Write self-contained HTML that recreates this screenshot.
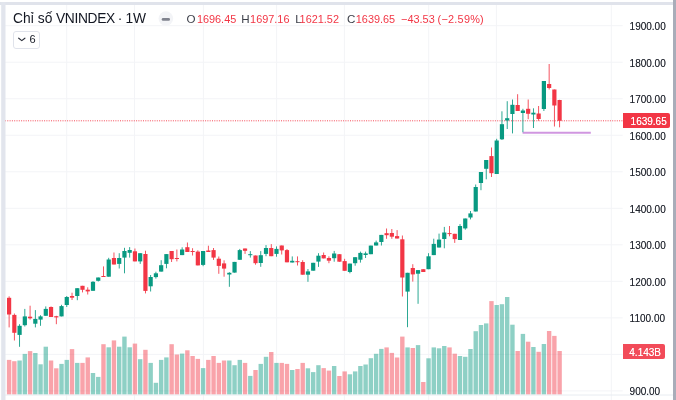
<!DOCTYPE html>
<html><head><meta charset="utf-8">
<style>
html,body{margin:0;padding:0;background:#fff;}
body{width:676px;height:400px;overflow:hidden;position:relative;font-family:"Liberation Sans",Arial,sans-serif;}
.gs{will-change:transform;}
svg{position:absolute;left:0;top:0;}
.pl{position:absolute;left:629.6px;font-size:10px;line-height:12px;color:#22262f;text-shadow:0 0 0.35px rgba(19,23,34,0.5);white-space:nowrap;}
.tag{position:absolute;left:622.8px;height:14.5px;color:#fff;font-size:10px;line-height:14.5px;padding-top:1.7px;text-shadow:0 0 0.4px rgba(255,255,255,0.8);border-radius:0 2px 2px 0;white-space:nowrap;box-sizing:border-box;}
.title{position:absolute;top:10.1px;font-size:13.8px;line-height:18px;color:#131722;white-space:nowrap;}
.ohlc{position:absolute;top:11.2px;font-size:10.9px;line-height:16px;white-space:nowrap;color:#f23645;}
.ohlc b{font-weight:normal;color:#3b3e48;font-size:11.6px;}
.box{position:absolute;left:13.3px;top:31px;width:26.4px;height:18px;box-sizing:border-box;border:1px solid #e0e3eb;border-radius:3px;}
.six{position:absolute;left:29.5px;top:31.9px;font-size:11px;line-height:14px;color:#131722;}
</style></head><body>
<svg width="676" height="400" viewBox="0 0 676 400">
<defs><clipPath id="pane"><rect x="5" y="5" width="618" height="395"/></clipPath></defs>
<g clip-path="url(#pane)">
<g stroke="#f3f4f7" stroke-width="1"><line x1="5" y1="25.7" x2="622.7" y2="25.7"/><line x1="5" y1="62.22" x2="622.7" y2="62.22"/><line x1="5" y1="98.74" x2="622.7" y2="98.74"/><line x1="5" y1="135.26" x2="622.7" y2="135.26"/><line x1="5" y1="171.78" x2="622.7" y2="171.78"/><line x1="5" y1="208.3" x2="622.7" y2="208.3"/><line x1="5" y1="244.82" x2="622.7" y2="244.82"/><line x1="5" y1="281.34" x2="622.7" y2="281.34"/><line x1="5" y1="317.86" x2="622.7" y2="317.86"/><line x1="5" y1="354.38" x2="622.7" y2="354.38"/><line x1="5" y1="390.9" x2="622.7" y2="390.9"/><line x1="66.7" y1="5" x2="66.7" y2="400"/><line x1="134.5" y1="5" x2="134.5" y2="400"/><line x1="203.4" y1="5" x2="203.4" y2="400"/><line x1="276.6" y1="5" x2="276.6" y2="400"/><line x1="344.4" y1="5" x2="344.4" y2="400"/><line x1="428.7" y1="5" x2="428.7" y2="400"/><line x1="496.4" y1="5" x2="496.4" y2="400"/><line x1="611.3" y1="5" x2="611.3" y2="400"/></g>
<g fill="rgba(242,54,69,0.46)"><rect x="6.9" y="359.9" width="4.4" height="34.7"/><rect x="12.14" y="361.2" width="4.4" height="33.4"/><rect x="27.87" y="351.1" width="4.4" height="43.5"/><rect x="48.84" y="360.5" width="4.4" height="34.1"/><rect x="54.09" y="368.3" width="4.4" height="26.3"/><rect x="69.82" y="349.1" width="4.4" height="45.5"/><rect x="80.3" y="362.9" width="4.4" height="31.7"/><rect x="85.55" y="357.4" width="4.4" height="37.2"/><rect x="101.27" y="344.2" width="4.4" height="50.4"/><rect x="111.76" y="340.4" width="4.4" height="54.2"/><rect x="132.73" y="343.6" width="4.4" height="51"/><rect x="143.22" y="349.8" width="4.4" height="44.8"/><rect x="169.43" y="344.2" width="4.4" height="50.4"/><rect x="174.68" y="354.5" width="4.4" height="40.1"/><rect x="185.16" y="350.3" width="4.4" height="44.3"/><rect x="190.41" y="356" width="4.4" height="38.6"/><rect x="195.65" y="358.9" width="4.4" height="35.7"/><rect x="206.13" y="359.9" width="4.4" height="34.7"/><rect x="211.38" y="356" width="4.4" height="38.6"/><rect x="216.62" y="362.9" width="4.4" height="31.7"/><rect x="221.86" y="360.5" width="4.4" height="34.1"/><rect x="242.84" y="362.9" width="4.4" height="31.7"/><rect x="253.32" y="370" width="4.4" height="24.6"/><rect x="269.05" y="352" width="4.4" height="42.6"/><rect x="279.54" y="362.9" width="4.4" height="31.7"/><rect x="284.78" y="363.9" width="4.4" height="30.7"/><rect x="295.27" y="369" width="4.4" height="25.6"/><rect x="300.51" y="362.9" width="4.4" height="31.7"/><rect x="321.48" y="368.1" width="4.4" height="26.5"/><rect x="326.72" y="370.6" width="4.4" height="24"/><rect x="337.21" y="376" width="4.4" height="18.6"/><rect x="342.45" y="371.4" width="4.4" height="23.2"/><rect x="384.4" y="347.4" width="4.4" height="47.2"/><rect x="389.64" y="352.9" width="4.4" height="41.7"/><rect x="394.88" y="357.5" width="4.4" height="37.1"/><rect x="400.13" y="336.6" width="4.4" height="58"/><rect x="410.61" y="348" width="4.4" height="46.6"/><rect x="421.1" y="382" width="4.4" height="12.6"/><rect x="447.31" y="347.4" width="4.4" height="47.2"/><rect x="452.56" y="353.7" width="4.4" height="40.9"/><rect x="489.26" y="301.1" width="4.4" height="93.5"/><rect x="515.47" y="351" width="4.4" height="43.6"/><rect x="525.96" y="341.7" width="4.4" height="52.9"/><rect x="536.44" y="351.8" width="4.4" height="42.8"/><rect x="546.93" y="331" width="4.4" height="63.6"/><rect x="552.17" y="335.9" width="4.4" height="58.7"/><rect x="557.41" y="351" width="4.4" height="43.6"/></g>
<g fill="rgba(8,153,129,0.46)"><rect x="17.39" y="360.5" width="4.4" height="34.1"/><rect x="22.63" y="353.9" width="4.4" height="40.7"/><rect x="33.12" y="353" width="4.4" height="41.6"/><rect x="38.36" y="364.3" width="4.4" height="30.3"/><rect x="43.6" y="346.7" width="4.4" height="47.9"/><rect x="59.33" y="363.9" width="4.4" height="30.7"/><rect x="64.57" y="359.9" width="4.4" height="34.7"/><rect x="75.06" y="362.9" width="4.4" height="31.7"/><rect x="90.79" y="373" width="4.4" height="21.6"/><rect x="96.03" y="376.9" width="4.4" height="17.7"/><rect x="106.52" y="347.3" width="4.4" height="47.3"/><rect x="117" y="346.7" width="4.4" height="47.9"/><rect x="122.25" y="336.6" width="4.4" height="58"/><rect x="127.49" y="347.3" width="4.4" height="47.3"/><rect x="137.98" y="359.2" width="4.4" height="35.4"/><rect x="148.46" y="362.9" width="4.4" height="31.7"/><rect x="153.7" y="382.8" width="4.4" height="11.8"/><rect x="158.95" y="359.9" width="4.4" height="34.7"/><rect x="164.19" y="357.4" width="4.4" height="37.2"/><rect x="179.92" y="353.6" width="4.4" height="41"/><rect x="200.89" y="368.1" width="4.4" height="26.5"/><rect x="227.11" y="360.5" width="4.4" height="34.1"/><rect x="232.35" y="365.2" width="4.4" height="29.4"/><rect x="237.59" y="359.9" width="4.4" height="34.7"/><rect x="248.08" y="375.9" width="4.4" height="18.7"/><rect x="258.56" y="363.9" width="4.4" height="30.7"/><rect x="263.81" y="356.8" width="4.4" height="37.8"/><rect x="274.29" y="362.9" width="4.4" height="31.7"/><rect x="290.02" y="370" width="4.4" height="24.6"/><rect x="305.75" y="368.3" width="4.4" height="26.3"/><rect x="310.99" y="372.1" width="4.4" height="22.5"/><rect x="316.24" y="365.2" width="4.4" height="29.4"/><rect x="331.97" y="366" width="4.4" height="28.6"/><rect x="347.7" y="374.3" width="4.4" height="20.3"/><rect x="352.94" y="371.4" width="4.4" height="23.2"/><rect x="358.18" y="366" width="4.4" height="28.6"/><rect x="363.42" y="364.5" width="4.4" height="30.1"/><rect x="368.67" y="358.2" width="4.4" height="36.4"/><rect x="373.91" y="353.8" width="4.4" height="40.8"/><rect x="379.15" y="348.9" width="4.4" height="45.7"/><rect x="405.37" y="347.4" width="4.4" height="47.2"/><rect x="415.85" y="345.1" width="4.4" height="49.5"/><rect x="426.34" y="358.3" width="4.4" height="36.3"/><rect x="431.58" y="347.4" width="4.4" height="47.2"/><rect x="436.83" y="348.3" width="4.4" height="46.3"/><rect x="442.07" y="346" width="4.4" height="48.6"/><rect x="457.8" y="356" width="4.4" height="38.6"/><rect x="463.04" y="356.8" width="4.4" height="37.8"/><rect x="468.28" y="349" width="4.4" height="45.6"/><rect x="473.53" y="331.2" width="4.4" height="63.4"/><rect x="478.77" y="325" width="4.4" height="69.6"/><rect x="484.01" y="323.4" width="4.4" height="71.2"/><rect x="494.5" y="305" width="4.4" height="89.6"/><rect x="499.74" y="304.2" width="4.4" height="90.4"/><rect x="504.99" y="297" width="4.4" height="97.6"/><rect x="510.23" y="324.7" width="4.4" height="69.9"/><rect x="520.71" y="333.9" width="4.4" height="60.7"/><rect x="531.2" y="347" width="4.4" height="47.6"/><rect x="541.69" y="344" width="4.4" height="50.6"/></g>
<line x1="5" y1="120.8" x2="623" y2="120.8" stroke="#f23645" stroke-width="1" stroke-dasharray="1 1.3" opacity="0.9"/>
<line x1="522.6" y1="132.8" x2="590.8" y2="132.8" stroke="#d096e0" stroke-width="1.9"/>
<g fill="#f23645"><rect x="8.68" y="296.3" width="0.85" height="31.1"/><rect x="7" y="297.8" width="4.2" height="16.7"/><rect x="13.92" y="313.5" width="0.85" height="27"/><rect x="12.24" y="314.9" width="4.2" height="17.9"/><rect x="29.65" y="305.7" width="0.85" height="13.9"/><rect x="27.97" y="316.7" width="4.2" height="1.6"/><rect x="50.62" y="306.4" width="0.85" height="10.6"/><rect x="48.94" y="307" width="4.2" height="10"/><rect x="55.87" y="315.8" width="0.85" height="8.4"/><rect x="54.19" y="316.2" width="4.2" height="1.2"/><rect x="71.6" y="292.7" width="0.85" height="7.3"/><rect x="69.92" y="296" width="4.2" height="1.7"/><rect x="82.08" y="285.8" width="0.85" height="6.6"/><rect x="80.4" y="285.8" width="4.2" height="4"/><rect x="87.33" y="287.3" width="0.85" height="7.2"/><rect x="85.65" y="289.7" width="4.2" height="1.7"/><rect x="103.05" y="266.4" width="0.85" height="10.4"/><rect x="101.37" y="276" width="4.2" height="1"/><rect x="113.54" y="252.5" width="0.85" height="12"/><rect x="111.86" y="258" width="4.2" height="6.5"/><rect x="134.51" y="248.5" width="0.85" height="12.9"/><rect x="132.83" y="251.3" width="4.2" height="10.1"/><rect x="145" y="250.7" width="0.85" height="42.7"/><rect x="143.32" y="254" width="4.2" height="36.9"/><rect x="171.21" y="251" width="0.85" height="11"/><rect x="169.53" y="251" width="4.2" height="8.2"/><rect x="176.46" y="249.5" width="0.85" height="11.9"/><rect x="174.78" y="258" width="4.2" height="1"/><rect x="186.94" y="242.5" width="0.85" height="9.5"/><rect x="185.26" y="247.2" width="4.2" height="4.8"/><rect x="192.19" y="248.2" width="0.85" height="7.3"/><rect x="190.51" y="251" width="4.2" height="1"/><rect x="197.43" y="250.3" width="0.85" height="15.1"/><rect x="195.75" y="251.6" width="4.2" height="13.8"/><rect x="207.91" y="245.7" width="0.85" height="6.3"/><rect x="206.23" y="250.5" width="4.2" height="1.5"/><rect x="213.16" y="248" width="0.85" height="11.9"/><rect x="211.48" y="250.1" width="4.2" height="7.5"/><rect x="218.4" y="256.5" width="0.85" height="17.3"/><rect x="216.72" y="258.7" width="4.2" height="7.2"/><rect x="223.64" y="260.3" width="0.85" height="16.4"/><rect x="221.96" y="263.4" width="4.2" height="5.2"/><rect x="244.62" y="248.5" width="0.85" height="5.4"/><rect x="242.94" y="248.5" width="4.2" height="2.3"/><rect x="255.1" y="255.5" width="0.85" height="9.2"/><rect x="253.42" y="255.5" width="4.2" height="7.7"/><rect x="270.83" y="244.1" width="0.85" height="12.1"/><rect x="269.15" y="248" width="4.2" height="8.2"/><rect x="281.32" y="245.5" width="0.85" height="9"/><rect x="279.64" y="245.5" width="4.2" height="4.9"/><rect x="286.56" y="249.1" width="0.85" height="13.2"/><rect x="284.88" y="250.1" width="4.2" height="12.2"/><rect x="297.05" y="256.4" width="0.85" height="9.1"/><rect x="295.37" y="261.2" width="4.2" height="1"/><rect x="302.29" y="260.2" width="0.85" height="14.5"/><rect x="300.61" y="262" width="4.2" height="12.7"/><rect x="323.26" y="252.5" width="0.85" height="5.9"/><rect x="321.58" y="255" width="4.2" height="3.4"/><rect x="328.5" y="256.3" width="0.85" height="6.9"/><rect x="326.82" y="258" width="4.2" height="2.7"/><rect x="338.99" y="254.2" width="0.85" height="7.5"/><rect x="337.31" y="254.2" width="4.2" height="7.5"/><rect x="344.23" y="258.8" width="0.85" height="12"/><rect x="342.55" y="261.1" width="4.2" height="9.7"/><rect x="386.18" y="228.5" width="0.85" height="10.3"/><rect x="384.5" y="233.2" width="4.2" height="2"/><rect x="391.42" y="229" width="0.85" height="9.8"/><rect x="389.74" y="233" width="4.2" height="3.7"/><rect x="396.66" y="230.1" width="0.85" height="8.4"/><rect x="394.98" y="236.1" width="4.2" height="2.4"/><rect x="401.91" y="235.5" width="0.85" height="61"/><rect x="400.23" y="239.3" width="4.2" height="38.2"/><rect x="412.39" y="264.2" width="0.85" height="17.4"/><rect x="410.71" y="268" width="4.2" height="6.4"/><rect x="422.88" y="269.2" width="0.85" height="2.8"/><rect x="421.2" y="269.2" width="4.2" height="2.8"/><rect x="449.09" y="226" width="0.85" height="10.3"/><rect x="447.41" y="233.1" width="4.2" height="1"/><rect x="454.34" y="233.8" width="0.85" height="9.1"/><rect x="452.66" y="233.8" width="4.2" height="5.3"/><rect x="491.04" y="147.5" width="0.85" height="29.5"/><rect x="489.36" y="156.1" width="4.2" height="17.1"/><rect x="517.25" y="94.2" width="0.85" height="16.8"/><rect x="515.57" y="105" width="4.2" height="6"/><rect x="527.74" y="99.5" width="0.85" height="19.7"/><rect x="526.06" y="108.8" width="4.2" height="5"/><rect x="538.22" y="106" width="0.85" height="14.8"/><rect x="536.54" y="113.5" width="4.2" height="5.5"/><rect x="548.71" y="64" width="0.85" height="25.5"/><rect x="547.03" y="84" width="4.2" height="4"/><rect x="553.95" y="89.5" width="0.85" height="37"/><rect x="552.27" y="89.5" width="4.2" height="16"/><rect x="559.2" y="99.8" width="0.85" height="27.5"/><rect x="557.51" y="100" width="4.2" height="20.8"/></g>
<g fill="#089981"><rect x="19.17" y="324.2" width="0.85" height="22.6"/><rect x="17.49" y="325.8" width="4.2" height="9.1"/><rect x="24.41" y="308.9" width="0.85" height="17.6"/><rect x="22.73" y="316.4" width="4.2" height="8.8"/><rect x="34.9" y="310.1" width="0.85" height="17.3"/><rect x="33.22" y="318.9" width="4.2" height="4.8"/><rect x="40.14" y="315.2" width="0.85" height="10.6"/><rect x="38.46" y="316.4" width="4.2" height="3.2"/><rect x="45.38" y="306.4" width="0.85" height="9.4"/><rect x="43.7" y="308.9" width="4.2" height="6.9"/><rect x="61.11" y="304.8" width="0.85" height="11.6"/><rect x="59.43" y="306.1" width="4.2" height="10.3"/><rect x="66.35" y="296" width="0.85" height="11"/><rect x="64.67" y="297" width="4.2" height="8"/><rect x="76.84" y="288.2" width="0.85" height="12"/><rect x="75.16" y="288.2" width="4.2" height="7.8"/><rect x="92.57" y="281.2" width="0.85" height="9.6"/><rect x="90.89" y="281.8" width="4.2" height="9"/><rect x="97.81" y="277.5" width="0.85" height="4"/><rect x="96.13" y="277.5" width="4.2" height="3.3"/><rect x="108.3" y="257.8" width="0.85" height="18.9"/><rect x="106.62" y="259.5" width="4.2" height="17.2"/><rect x="118.78" y="253.2" width="0.85" height="15.3"/><rect x="117.1" y="258" width="4.2" height="5.9"/><rect x="124.03" y="247.8" width="0.85" height="25.5"/><rect x="122.35" y="251" width="4.2" height="6.6"/><rect x="129.27" y="247.1" width="0.85" height="10.5"/><rect x="127.59" y="250" width="4.2" height="2.8"/><rect x="139.76" y="253.2" width="0.85" height="10.7"/><rect x="138.08" y="253.2" width="4.2" height="8.2"/><rect x="150.24" y="275" width="0.85" height="16.5"/><rect x="148.56" y="277" width="4.2" height="9.3"/><rect x="155.48" y="271.7" width="0.85" height="6.9"/><rect x="153.8" y="273.3" width="4.2" height="3.8"/><rect x="160.73" y="260.2" width="0.85" height="11.4"/><rect x="159.05" y="265.2" width="4.2" height="6.4"/><rect x="165.97" y="254.1" width="0.85" height="14.2"/><rect x="164.29" y="254.1" width="4.2" height="9.8"/><rect x="181.7" y="247.3" width="0.85" height="7.8"/><rect x="180.02" y="249.5" width="4.2" height="5.6"/><rect x="202.67" y="251" width="0.85" height="15.2"/><rect x="200.99" y="251" width="4.2" height="13.9"/><rect x="228.89" y="272.2" width="0.85" height="14.6"/><rect x="227.21" y="272.8" width="4.2" height="1.7"/><rect x="234.13" y="261.9" width="0.85" height="10.7"/><rect x="232.45" y="261.9" width="4.2" height="10.7"/><rect x="239.37" y="248.9" width="0.85" height="10.9"/><rect x="237.69" y="250.1" width="4.2" height="9.7"/><rect x="249.86" y="251.1" width="0.85" height="6.5"/><rect x="248.18" y="254.2" width="4.2" height="1"/><rect x="260.34" y="251.1" width="0.85" height="15.7"/><rect x="258.66" y="255.2" width="4.2" height="7.8"/><rect x="265.59" y="245.1" width="0.85" height="11.1"/><rect x="263.91" y="248" width="4.2" height="5.9"/><rect x="276.07" y="246.4" width="0.85" height="10.3"/><rect x="274.39" y="248.9" width="4.2" height="5"/><rect x="291.8" y="256.4" width="0.85" height="6.1"/><rect x="290.12" y="260.8" width="4.2" height="1.7"/><rect x="307.53" y="269" width="0.85" height="12.8"/><rect x="305.85" y="271.4" width="4.2" height="3.3"/><rect x="312.77" y="262.8" width="0.85" height="7.9"/><rect x="311.09" y="262.8" width="4.2" height="7.9"/><rect x="318.02" y="253.2" width="0.85" height="13.7"/><rect x="316.34" y="255.7" width="4.2" height="5.9"/><rect x="333.75" y="250.9" width="0.85" height="10.8"/><rect x="332.07" y="253.5" width="4.2" height="4.7"/><rect x="349.48" y="263.6" width="0.85" height="9.7"/><rect x="347.8" y="263.6" width="4.2" height="8.4"/><rect x="354.72" y="257.2" width="0.85" height="8.5"/><rect x="353.04" y="257.2" width="4.2" height="6"/><rect x="359.96" y="251.6" width="0.85" height="11"/><rect x="358.28" y="252.9" width="4.2" height="6.8"/><rect x="365.2" y="251.6" width="0.85" height="6.4"/><rect x="363.52" y="253.4" width="4.2" height="1.6"/><rect x="370.45" y="245.6" width="0.85" height="8.6"/><rect x="368.77" y="245.6" width="4.2" height="8.6"/><rect x="375.69" y="240.6" width="0.85" height="4.9"/><rect x="374.01" y="242.4" width="4.2" height="3.1"/><rect x="380.93" y="234.9" width="0.85" height="10.6"/><rect x="379.25" y="234.9" width="4.2" height="7.1"/><rect x="407.15" y="272.8" width="0.85" height="54.4"/><rect x="405.47" y="272.8" width="4.2" height="18.8"/><rect x="417.63" y="270.1" width="0.85" height="33.7"/><rect x="415.95" y="270.1" width="4.2" height="3.6"/><rect x="428.12" y="253.2" width="0.85" height="16"/><rect x="426.44" y="256.3" width="4.2" height="12.9"/><rect x="433.36" y="238.7" width="0.85" height="16.4"/><rect x="431.68" y="243.9" width="4.2" height="11.2"/><rect x="438.61" y="233.6" width="0.85" height="13.9"/><rect x="436.93" y="239.6" width="4.2" height="7.9"/><rect x="443.85" y="226.9" width="0.85" height="21.4"/><rect x="442.17" y="232.5" width="4.2" height="6.5"/><rect x="459.58" y="224.1" width="0.85" height="15.9"/><rect x="457.9" y="226" width="4.2" height="14"/><rect x="464.82" y="218.5" width="0.85" height="11.2"/><rect x="463.14" y="218.5" width="4.2" height="9.9"/><rect x="470.06" y="211" width="0.85" height="8.4"/><rect x="468.38" y="213.4" width="4.2" height="4.1"/><rect x="475.31" y="184.5" width="0.85" height="27"/><rect x="473.63" y="187" width="4.2" height="24.5"/><rect x="480.55" y="172" width="0.85" height="18.2"/><rect x="478.87" y="172" width="4.2" height="11"/><rect x="485.79" y="160" width="0.85" height="19.3"/><rect x="484.11" y="160" width="4.2" height="8.8"/><rect x="496.28" y="138.8" width="0.85" height="35.2"/><rect x="494.6" y="140.5" width="4.2" height="33.5"/><rect x="501.52" y="111.3" width="0.85" height="28.7"/><rect x="499.84" y="124.2" width="4.2" height="15.1"/><rect x="506.77" y="101.2" width="0.85" height="27.8"/><rect x="505.09" y="118.2" width="4.2" height="2.3"/><rect x="512.01" y="99.5" width="0.85" height="33.9"/><rect x="510.33" y="104.8" width="4.2" height="9.2"/><rect x="522.49" y="108.8" width="0.85" height="23.4"/><rect x="520.81" y="110.5" width="4.2" height="2.5"/><rect x="532.98" y="108.3" width="0.85" height="19.7"/><rect x="531.3" y="112.7" width="4.2" height="1.8"/><rect x="543.47" y="81" width="0.85" height="30"/><rect x="541.79" y="81" width="4.2" height="28"/></g>
</g>
<line x1="5" y1="395" x2="673" y2="395" stroke="#e8ecf1" stroke-width="1"/>
<rect x="0" y="2" width="673" height="3" fill="#e0e3eb"/>
<rect x="1.2" y="2" width="4.3" height="398" fill="#e2e5ed"/>
<rect x="673" y="0" width="3" height="400" fill="#a9adb9"/>
<circle cx="165.85" cy="18.6" r="7.3" fill="#f3f4f7"/>
<rect x="161.7" y="18.1" width="8.3" height="2.7" rx="1.35" fill="#80838e"/>
<path d="M18.7 38.2 L21.8 40.6 L24.9 38.2" fill="none" stroke="#2a2e39" stroke-width="1.15" stroke-linecap="round" stroke-linejoin="round"/>
</svg>
<div class="gs" style="position:absolute;left:0;top:0;width:676px;height:400px;">
<div class="title" style="left:12.9px;letter-spacing:0.1px">Chỉ số</div>
<div class="title" style="left:56px;letter-spacing:-0.35px">VNINDEX</div>
<div class="title" style="left:117.8px">·</div>
<div class="title" style="left:125.4px">1W</div>
<div class="ohlc" style="left:186.5px"><b>O</b></div>
<div class="ohlc" style="left:196.9px">1696.45</div>
<div class="ohlc" style="left:241.3px"><b>H</b></div>
<div class="ohlc" style="left:250.1px">1697.16</div>
<div class="ohlc" style="left:295.2px"><b>L</b></div>
<div class="ohlc" style="left:299.6px">1621.52</div>
<div class="ohlc" style="left:347.1px"><b>C</b></div>
<div class="ohlc" style="left:355.8px">1639.65</div>
<div class="ohlc" style="left:401.1px">−43.53</div>
<div class="ohlc" style="left:437.5px;letter-spacing:0.25px">(−2.59%)</div>
<div class="box"></div>
<div class="six">6</div>
<div class="pl" style="top:21px">1900.00</div>
<div class="pl" style="top:57.52px">1800.00</div>
<div class="pl" style="top:94.04px">1700.00</div>
<div class="pl" style="top:130.56px">1600.00</div>
<div class="pl" style="top:167.08px">1500.00</div>
<div class="pl" style="top:203.6px">1400.00</div>
<div class="pl" style="top:240.12px">1300.00</div>
<div class="pl" style="top:276.64px">1200.00</div>
<div class="pl" style="top:313.16px">1100.00</div>
<div class="pl" style="top:386.2px">900.00</div>
<div class="tag" style="top:113.4px;width:47.6px;background:#f23645;padding-left:7.8px">1639.65</div>
<div class="tag" style="top:344.3px;width:42.2px;background:#f24b59;padding-left:6.5px">4.143B</div>
</div>
</body></html>
